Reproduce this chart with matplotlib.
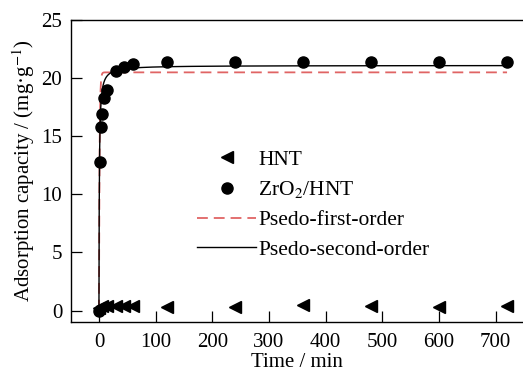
import numpy as np
import matplotlib
matplotlib.use("Agg")
import matplotlib.pyplot as plt
from matplotlib.lines import Line2D

plt.rcParams['font.family'] = ['Liberation Serif', 'DejaVu Serif']
plt.rcParams['mathtext.fontset'] = 'stix'

# Data
hnt_t = [0, 5, 15, 30, 45, 60, 120, 240, 360, 480, 600, 720]
hnt_q = [0.2, 0.4, 0.4, 0.35, 0.35, 0.35, 0.34, 0.28, 0.5, 0.42, 0.27, 0.43]

zr_t = [0, 1, 3, 5, 9, 15, 30, 45, 60, 120, 240, 360, 480, 600, 720]
zr_q = [0.0, 12.8, 15.8, 16.9, 18.3, 19.0, 20.6, 21.0, 21.25, 21.4, 21.4, 21.4, 21.4, 21.4, 21.4]

# Kinetic model parameters (fitted curves)
pfo_qe, pfo_k = 20.5, 0.9
pso_qe, pso_k = 21.1, 0.073
t_fit = np.linspace(0, 720, 3000)

xticks = [0, 100, 200, 300, 400, 500, 600, 700]
yticks = [0, 5, 10, 15, 20, 25]

red = '#e06464'
fs = 15

fig = plt.figure(figsize=(5.23, 3.72), dpi=100)
ax = fig.add_axes([0.135, 0.134, 0.867, 0.812])

q_pfo = pfo_qe * (1 - np.exp(-pfo_k * t_fit))
q_pso = pso_qe**2 * pso_k * t_fit / (1 + pso_qe * pso_k * t_fit)

ax.plot(t_fit, q_pfo, color=red, ls=(0, (6, 3.3)), lw=1.3, zorder=2)
ax.plot(t_fit, q_pso, color='black', lw=1.0, zorder=3)
ax.plot(hnt_t, hnt_q, ls='none', marker='<', color='black', ms=8, zorder=4)
ax.plot(zr_t, zr_q, ls='none', marker='o', color='black', ms=8, zorder=4)

ax.set_xlim(-50, 750)
ax.set_ylim(-1, 25)
ax.set_xticks(xticks)
ax.set_yticks(yticks)
ax.tick_params(direction='in', length=8, width=0.9, labelsize=fs, pad=6)
ax.tick_params(axis='x', pad=7.5)
for s in ax.spines.values():
    s.set_linewidth(1.0)
ax.spines['right'].set_visible(False)

ax.set_xlabel('Time / min', fontsize=fs, labelpad=1)
ax.set_ylabel('Adsorption capacity / (mg·g$^{-1}$)', fontsize=fs, labelpad=3)

handles = [
    Line2D([], [], ls='none', marker='<', color='black', ms=8),
    Line2D([], [], ls='none', marker='o', color='black', ms=8),
    Line2D([], [], color=red, ls=(0, (6, 3.3)), lw=1.3),
    Line2D([], [], color='black', lw=1.0),
]
labels = ['HNT', 'ZrO$_2$/HNT', 'Psedo-first-order', 'Psedo-second-order']
ax.legend(handles, labels, loc='upper left', bbox_to_anchor=(0.26, 0.6),
          frameon=False, fontsize=15.5, handlelength=2.75, handletextpad=0.1,
          labelspacing=0.45, borderaxespad=0)

fig.savefig('out.png', dpi=100)
